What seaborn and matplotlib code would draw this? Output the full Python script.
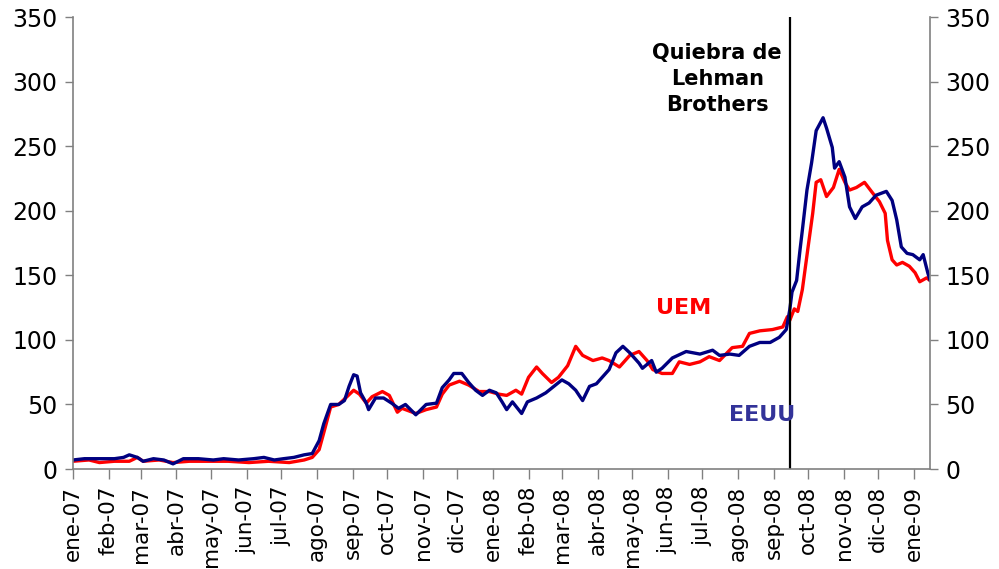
import pandas as pd
import matplotlib
matplotlib.use("Agg")
import matplotlib.pyplot as plt
import seaborn as sns

# Series (puntos aproximados)
uem_fechas = [
    "2007-01-01", "2007-01-15", "2007-01-24", "2007-02-06", "2007-02-19", "2007-02-26",
    "2007-03-03", "2007-03-17", "2007-03-29", "2007-04-12", "2007-04-29", "2007-05-16",
    "2007-06-03", "2007-06-20", "2007-07-08", "2007-07-21", "2007-07-28", "2007-08-03",
    "2007-08-07", "2007-08-13", "2007-08-20", "2007-08-26", "2007-09-02", "2007-09-07",
    "2007-09-13", "2007-09-18", "2007-09-27", "2007-10-03", "2007-10-10", "2007-10-14",
    "2007-10-26", "2007-11-04", "2007-11-13", "2007-11-18", "2007-11-24", "2007-12-03",
    "2007-12-11", "2007-12-20", "2007-12-29", "2008-01-06", "2008-01-13", "2008-01-21",
    "2008-01-26", "2008-02-01", "2008-02-08", "2008-02-13", "2008-02-21", "2008-02-27",
    "2008-03-06", "2008-03-13", "2008-03-19", "2008-03-28", "2008-04-05", "2008-04-11",
    "2008-04-20", "2008-04-29", "2008-05-07", "2008-05-14", "2008-05-19", "2008-05-27",
    "2008-06-05", "2008-06-11", "2008-06-20", "2008-06-29", "2008-07-07", "2008-07-16",
    "2008-07-27", "2008-08-05", "2008-08-11", "2008-08-20", "2008-08-31", "2008-09-09",
    "2008-09-13", "2008-09-15", "2008-09-19", "2008-09-22", "2008-09-26", "2008-10-01",
    "2008-10-05", "2008-10-08", "2008-10-12", "2008-10-17", "2008-10-23", "2008-10-28",
    "2008-11-02", "2008-11-06", "2008-11-12", "2008-11-19", "2008-11-25", "2008-12-02",
    "2008-12-07", "2008-12-09", "2008-12-13", "2008-12-17", "2008-12-22", "2008-12-28",
    "2009-01-02", "2009-01-06", "2009-01-12", "2009-01-15",
]
uem_valores = [
    6, 7, 5, 6, 6, 9,
    6, 7, 5, 6, 6, 6,
    5, 6, 5, 7, 9, 15,
    28, 48, 50, 55, 61, 58,
    51, 56, 60, 57, 44, 47,
    43, 46, 48, 58, 65, 68,
    65, 60, 60, 58, 57, 61,
    58, 71, 79, 74, 67, 71,
    80, 95, 88, 84, 86, 84,
    79, 88, 91, 84, 77, 74,
    74, 83, 81, 83, 87, 84,
    94, 95, 105, 107, 108, 110,
    118, 115, 124, 122, 139, 172,
    198, 222, 224, 211, 218, 232,
    222, 216, 218, 222, 215, 207,
    198, 177, 162, 158, 160, 157,
    152, 145, 148, 146,
]

eeuu_fechas = [
    "2007-01-01", "2007-01-11", "2007-01-24", "2007-02-06", "2007-02-14", "2007-02-19",
    "2007-02-26", "2007-03-03", "2007-03-12", "2007-03-21", "2007-03-29", "2007-04-07",
    "2007-04-20", "2007-05-03", "2007-05-12", "2007-05-25", "2007-06-07", "2007-06-16",
    "2007-06-25", "2007-07-03", "2007-07-12", "2007-07-21", "2007-07-28", "2007-08-03",
    "2007-08-07", "2007-08-13", "2007-08-20", "2007-08-25", "2007-08-29", "2007-09-02",
    "2007-09-05", "2007-09-08", "2007-09-13", "2007-09-15", "2007-09-21", "2007-09-28",
    "2007-10-05", "2007-10-11", "2007-10-17", "2007-10-26", "2007-11-04", "2007-11-13",
    "2007-11-18", "2007-11-24", "2007-11-28", "2007-12-05", "2007-12-11", "2007-12-17",
    "2007-12-23", "2007-12-29", "2008-01-04", "2008-01-09", "2008-01-13", "2008-01-18",
    "2008-01-26", "2008-01-31", "2008-02-08", "2008-02-16", "2008-02-23", "2008-03-01",
    "2008-03-07", "2008-03-13", "2008-03-19", "2008-03-25", "2008-03-31", "2008-04-05",
    "2008-04-11", "2008-04-17", "2008-04-23", "2008-04-29", "2008-05-07", "2008-05-10",
    "2008-05-18", "2008-05-22", "2008-05-27", "2008-06-05", "2008-06-17", "2008-06-29",
    "2008-07-10", "2008-07-16", "2008-07-25", "2008-08-02", "2008-08-11", "2008-08-20",
    "2008-08-29", "2008-09-06", "2008-09-12", "2008-09-15", "2008-09-17", "2008-09-21",
    "2008-09-24", "2008-09-26", "2008-09-30", "2008-10-04", "2008-10-08", "2008-10-14",
    "2008-10-17", "2008-10-22", "2008-10-24", "2008-10-28", "2008-11-02", "2008-11-06",
    "2008-11-11", "2008-11-17", "2008-11-23", "2008-11-29", "2008-12-08", "2008-12-13",
    "2008-12-17", "2008-12-21", "2008-12-26", "2008-12-31", "2009-01-06", "2009-01-09",
    "2009-01-13", "2009-01-15",
]
eeuu_valores = [
    7, 8, 8, 8, 9, 11,
    9, 6, 8, 7, 4, 8,
    8, 7, 8, 7, 8, 9,
    7, 8, 9, 11, 12, 22,
    35, 50, 50, 53, 64, 73,
    72, 59, 51, 46, 55, 55,
    51, 47, 50, 42, 50, 51,
    63, 69, 74, 74, 67, 61,
    57, 61, 59, 52, 46, 52,
    43, 52, 55, 59, 64, 69,
    66, 61, 53, 64, 66, 71,
    77, 90, 95, 90, 82, 78,
    84, 75, 78, 86, 91, 89,
    92, 88, 89, 88, 95, 98,
    98, 102, 108, 123, 137, 146,
    170, 185, 216, 237, 262, 272,
    264, 249, 233, 238, 226, 203,
    194, 203, 206, 212, 215, 208,
    193, 172, 167, 166, 162, 166,
    152, 146,
]

meses = [
    "ene-07", "feb-07", "mar-07", "abr-07", "may-07", "jun-07", "jul-07", "ago-07",
    "sep-07", "oct-07", "nov-07", "dic-07", "ene-08", "feb-08", "mar-08", "abr-08",
    "may-08", "jun-08", "jul-08", "ago-08", "sep-08", "oct-08", "nov-08", "dic-08",
    "ene-09",
]
fecha_lehman = "2008-09-15"

uem = pd.DataFrame({"fecha": pd.to_datetime(uem_fechas), "valor": uem_valores})
eeuu = pd.DataFrame({"fecha": pd.to_datetime(eeuu_fechas), "valor": eeuu_valores})

sns.set_style("white")
plt.rcParams["font.family"] = ["DejaVu Sans"]
plt.rcParams["text.color"] = "black"
plt.rcParams["xtick.labelcolor"] = "black"
plt.rcParams["ytick.labelcolor"] = "black"

fig = plt.figure(figsize=(9.99, 5.69), dpi=100)
ax = fig.add_axes([0.073, 0.1757, 0.858, 0.7944])

sns.lineplot(data=uem, x="fecha", y="valor", color="#ff0000", lw=2.4, ax=ax)
sns.lineplot(data=eeuu, x="fecha", y="valor", color="#000080", lw=2.4, ax=ax)
ax.axvline(pd.Timestamp(fecha_lehman), color="black", lw=1.6)

ax.set_ylim(0, 350)
ax.set_yticks(range(0, 351, 50))
ax.set_xlim(pd.Timestamp("2007-01-01"), pd.Timestamp("2009-01-15"))
ax.set_xticks(pd.date_range("2007-01-01", "2009-01-01", freq="MS"))
ax.set_xticklabels(meses, rotation=90)
ax.set_xlabel("")
ax.set_ylabel("")

ax.tick_params(axis="y", left=True, right=True, labelleft=True, labelright=True,
               direction="out", length=6, width=1, color="#808080",
               labelsize=17, pad=5)
ax.tick_params(axis="x", bottom=True, direction="out", length=7, width=1,
               color="#808080", labelsize=15.5, pad=5)
for lado in ["left", "right", "bottom"]:
    ax.spines[lado].set_color("#808080")
    ax.spines[lado].set_linewidth(1.2)
ax.spines["top"].set_visible(False)

ax.text(pd.Timestamp("2008-07-14"), 302, "Quiebra de\nLehman\nBrothers",
        color="black", ha="center", va="center", fontsize=15, fontweight="bold",
        linespacing=1.4, multialignment="center")
ax.text(pd.Timestamp("2008-06-15"), 125, "UEM", color="#ff0000",
        ha="center", va="center", fontsize=16, fontweight="bold")
ax.text(pd.Timestamp("2008-08-22"), 42, "EEUU", color="#333399",
        ha="center", va="center", fontsize=16, fontweight="bold")

fig.savefig("out.png", dpi=100)
plt.close(fig)
